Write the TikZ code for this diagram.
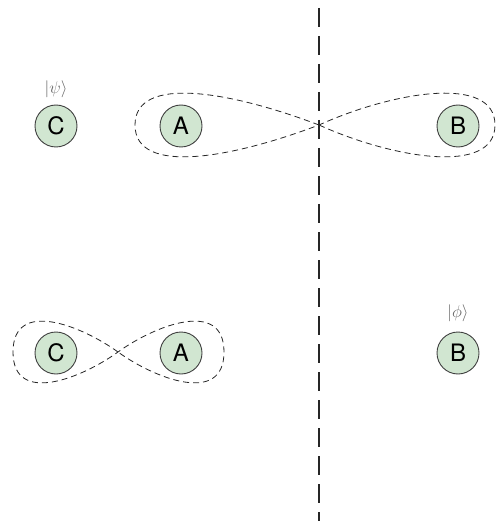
\documentclass[tikz,border=0pt]{standalone}
\usepackage{fix-cm}
\usepackage{fontspec}
\newfontfamily\hv{TeX Gyre Heros}
\begin{document}
\begin{tikzpicture}[x=1pt,y=-1pt,
  qubit/.style={circle,draw=black!75,line width=0.9pt,fill=green!45!black!18!white,minimum size=42pt,inner sep=0pt,font=\hv\fontsize{24}{26}\selectfont},
  ket/.style={text=black!60,font=\fontsize{17}{19}\selectfont,inner sep=0pt},
  loop/.style={dash pattern=on 6pt off 4pt,line width=0.8pt,black!85},
  cut/.style={dash pattern=on 19pt off 9pt,line width=1.5pt,black!85}]
\useasboundingbox (0,0) rectangle (497,521);
% vertical cut
\coordinate (ctop) at (319,8);
\coordinate (cbot) at (319,521);
\draw[cut] (ctop) -- (cbot);
% top row
\node[qubit] (C1) at (56,126) {C};
\node[ket] (k1) at (56,89) {$|\psi\rangle$};
\node[qubit] (A1) at (181,126) {A};
\node[qubit] (B1) at (458,126) {B};
\coordinate (X1) at (319,125);
\draw[loop] (X1) .. controls (232,92) and (135,74) .. (135,125)
  .. controls (135,176) and (232,158) .. (X1)
  .. controls (392,92) and (495,74) .. (495,125)
  .. controls (495,176) and (392,158) .. (X1);
% bottom row
\node[qubit] (C2) at (56,353) {C};
\node[qubit] (A2) at (181,353) {A};
\node[qubit] (B2) at (458,353) {B};
\node[ket] (k2) at (458,313) {$|\phi\rangle$};
\coordinate (X2) at (118,352);
\draw[loop] (X2) .. controls (82,326) and (13,298) .. (13,352)
  .. controls (13,406) and (82,378) .. (X2)
  .. controls (154,326) and (224,298) .. (224,352)
  .. controls (224,406) and (154,378) .. (X2);
\end{tikzpicture}
\end{document}
